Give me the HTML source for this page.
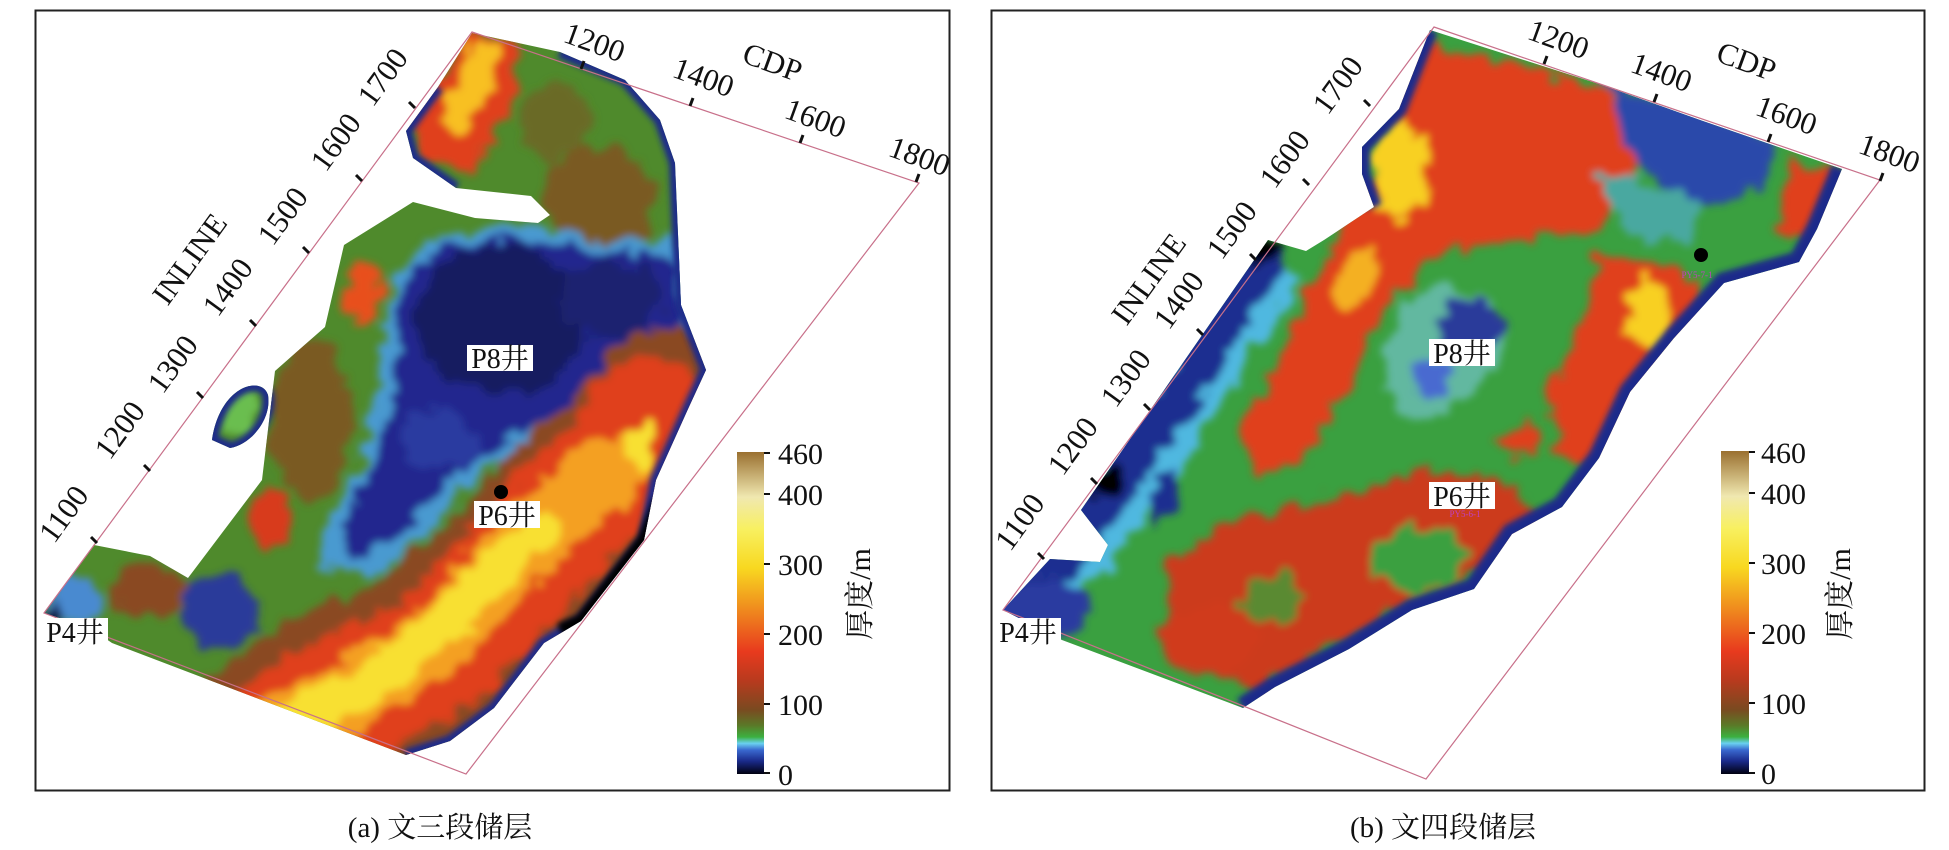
<!DOCTYPE html>
<html><head><meta charset="utf-8"><style>
html,body{margin:0;padding:0;background:#fff}
svg{display:block}
text{font-family:"Liberation Serif","Noto Serif CJK SC","Noto Sans CJK SC",serif;fill:#111}
</style></head><body>
<svg width="1949" height="850" viewBox="0 0 1949 850" xmlns="http://www.w3.org/2000/svg">
<defs>
<filter id="bl" x="-20%" y="-20%" width="140%" height="140%">
<feTurbulence type="fractalNoise" baseFrequency="0.05" numOctaves="3" seed="3" result="t"/>
<feDisplacementMap in="SourceGraphic" in2="t" scale="30" xChannelSelector="R" yChannelSelector="G" result="d"/>
<feGaussianBlur in="d" stdDeviation="4"/></filter>
<filter id="bs" x="-20%" y="-20%" width="140%" height="140%"><feGaussianBlur stdDeviation="3"/></filter>
<linearGradient id="cb" x1="0" y1="1" x2="0" y2="0">
<stop offset="0" stop-color="#000010"/><stop offset="0.04" stop-color="#1a2a8a"/>
<stop offset="0.075" stop-color="#3a6ad0"/><stop offset="0.095" stop-color="#6ad0f0"/>
<stop offset="0.115" stop-color="#3cb040"/><stop offset="0.15" stop-color="#5a7a28"/>
<stop offset="0.20" stop-color="#7a4a20"/><stop offset="0.29" stop-color="#b83a1e"/>
<stop offset="0.38" stop-color="#e83a1e"/><stop offset="0.52" stop-color="#f0901e"/>
<stop offset="0.64" stop-color="#f8d820"/><stop offset="0.76" stop-color="#f8f060"/>
<stop offset="0.86" stop-color="#f0e8b0"/><stop offset="1" stop-color="#9a7030"/></linearGradient>
<clipPath id="cl"><path d="M472,33 L560,52 L625,80 L660,120 L675,163 L681,305 L706,370 L688,409 L656,480 L644,540 L581,621 L544,643 L494,708 L450,741 L406,755 L112,643 L90,628 L44,613 L94,545 L150,556 L188,578 L262,480 L275,371 L325,327 L344,245 L413,202 L475,218 L538,223 L550,215 L531,196 L456,188 L413,158 L406,131 L438,87 Z"/>
<path d="M212,440 C220,385 262,375 268,395 C272,420 250,445 230,448 Z"/></clipPath>
<clipPath id="cr"><path d="M1430,30 L1599,84 L1700,120 L1842,169 L1817,229 L1799,262 L1724,283 L1674,338 L1630,392 L1599,458 L1562,507 L1512,534 L1474,589 L1412,610 L1349,649 L1275,687 L1243,708 L1062,640 L1003,610 L1050,559 L1100,562 L1108,545 L1081,510 L1268,240 L1306,251 L1324,240 L1374,207 L1362,174 L1362,147 L1399,109 Z"/></clipPath>
</defs>

<rect x="35.5" y="10.5" width="914" height="780" fill="none" stroke="#222" stroke-width="2"/>
<rect x="991.5" y="10.5" width="933" height="780" fill="none" stroke="#222" stroke-width="2"/>

<!-- LEFT MAP -->
<g clip-path="url(#cl)">
<rect x="30" y="20" width="700" height="760" fill="#4f8a2c"/>
<g filter="url(#bl)">
<ellipse cx="310" cy="420" rx="40" ry="80" fill="#7a5a22"/>
<ellipse cx="600" cy="200" rx="55" ry="55" fill="#7a5a22"/>
<ellipse cx="555" cy="120" rx="35" ry="40" fill="#6a6a26"/>
<ellipse cx="150" cy="590" rx="35" ry="28" fill="#8a4a20"/>
<ellipse cx="240" cy="410" rx="18" ry="25" fill="#6abe50"/>
<path d="M390,280 L440,235 L520,225 L600,240 L680,240 L700,320 L680,370 L640,395 L590,400 L560,430 L520,450 L470,480 L440,520 L400,560 L350,580 L320,560 L330,520 L360,470 L375,400 L385,330 Z" fill="#4a9ad0"/>
<path d="M400,285 L445,245 L520,238 L600,252 L670,255 L688,320 L670,360 L630,380 L585,390 L550,420 L510,440 L460,470 L425,510 L385,545 L345,560 L345,520 L372,470 L390,400 L398,330 Z" fill="#20288e"/>
<ellipse cx="500" cy="320" rx="85" ry="75" fill="#181a60"/>
<ellipse cx="610" cy="300" rx="50" ry="40" fill="#1c2470"/>
<ellipse cx="440" cy="440" rx="40" ry="30" fill="#2a3aa0"/>
<ellipse cx="220" cy="610" rx="38" ry="38" fill="#2a3a9a"/>
<ellipse cx="75" cy="600" rx="30" ry="25" fill="#4a8ad0"/>
<ellipse cx="55" cy="612" rx="12" ry="10" fill="#101040"/>
<path d="M470,30 L520,45 L510,110 L470,175 L420,160 L412,120 Z" fill="#e0401e"/>
<path d="M478,40 L500,50 L485,105 L455,135 L440,120 Z" fill="#f8c020"/>
<ellipse cx="362" cy="292" rx="20" ry="28" fill="#e8501e"/>
<ellipse cx="272" cy="520" rx="20" ry="32" fill="#d83a1e"/>
<path d="M250,760 L330,700 L430,660 L510,590 L570,520 L640,460 L670,420" fill="none" stroke="#8a4a20" stroke-width="180" stroke-linecap="round"/>
<path d="M260,750 L340,700 L440,650 L510,580 L570,510 L630,450 L650,420" fill="none" stroke="#e0401e" stroke-width="125" stroke-linecap="round"/>
<path d="M280,730 L350,695 L440,640 L500,570 L560,510 L610,470" fill="none" stroke="#f4a020" stroke-width="70" stroke-linecap="round"/>
<path d="M290,720 L360,690 L440,630 L490,575 L540,530" fill="none" stroke="#f8e030" stroke-width="40" stroke-linecap="round"/>
<ellipse cx="640" cy="445" rx="14" ry="22" fill="#f8e030"/>
</g>
<path d="M560,52 L625,80 L660,120 L675,163 L681,305 L706,370 L688,409 L656,480 L644,540 L581,621 L544,643 L494,708 L450,741 L406,755 M456,188 L413,158 L406,131 L438,87 M212,440 C220,385 262,375 268,395 C272,420 250,445 230,448 Z" fill="none" stroke="#1a2a8a" stroke-width="12" filter="url(#bs)"/>
<path d="M660,500 L644,540 L581,621 L560,630" fill="none" stroke="#000" stroke-width="14" filter="url(#bs)"/>
</g>
<path d="M472,32 L919,183 L466,774 L44,613 Z" fill="none" stroke="#c8708a" stroke-width="1.2"/>
<g stroke="#111" stroke-width="3">
<line x1="97" y1="543" x2="91" y2="537"/><line x1="150" y1="471" x2="144" y2="465"/>
<line x1="203" y1="398" x2="197" y2="392"/><line x1="256" y1="326" x2="250" y2="320"/>
<line x1="309" y1="253" x2="303" y2="247"/><line x1="362" y1="181" x2="356" y2="175"/>
<line x1="415" y1="108" x2="409" y2="102"/>
<line x1="581" y1="69" x2="584" y2="61"/><line x1="690" y1="106" x2="693" y2="98"/>
<line x1="800" y1="143" x2="803" y2="135"/><line x1="916" y1="182" x2="919" y2="174"/>
</g>
<g font-size="31">
<text transform="translate(72,520) rotate(-54)" text-anchor="middle">1100</text>
<text transform="translate(128,436) rotate(-54)" text-anchor="middle">1200</text>
<text transform="translate(181,370) rotate(-54)" text-anchor="middle">1300</text>
<text transform="translate(236,293) rotate(-54)" text-anchor="middle">1400</text>
<text transform="translate(291,222) rotate(-54)" text-anchor="middle">1500</text>
<text transform="translate(344,148) rotate(-54)" text-anchor="middle">1600</text>
<text transform="translate(391,83) rotate(-54)" text-anchor="middle">1700</text>
<text transform="translate(198,265) rotate(-54)" text-anchor="middle">INLINE</text>
<text transform="translate(591,52) rotate(20)" text-anchor="middle">1200</text>
<text transform="translate(700,87) rotate(20)" text-anchor="middle">1400</text>
<text transform="translate(769,72) rotate(20)" text-anchor="middle">CDP</text>
<text transform="translate(812,128) rotate(20)" text-anchor="middle">1600</text>
<text transform="translate(916,166) rotate(20)" text-anchor="middle">1800</text>
</g>
<circle cx="501" cy="492" r="7" fill="#000"/>
<rect x="467" y="345" width="66" height="26" fill="#fff"/><text x="500" y="368" font-size="28" text-anchor="middle">P8井</text>
<rect x="474" y="501" width="66" height="27" fill="#fff"/><text x="507" y="525" font-size="28" text-anchor="middle">P6井</text>
<rect x="42" y="618" width="66" height="27" fill="#fff"/><text x="75" y="642" font-size="28" text-anchor="middle">P4井</text>
<rect x="737" y="452" width="27" height="322" fill="url(#cb)"/>
<g stroke="#111" stroke-width="2">
<line x1="764" y1="453" x2="770" y2="453"/><line x1="764" y1="494" x2="770" y2="494"/><line x1="764" y1="564" x2="770" y2="564"/><line x1="764" y1="634" x2="770" y2="634"/><line x1="764" y1="704" x2="770" y2="704"/><line x1="764" y1="773" x2="770" y2="773"/></g>
<g font-size="30"><text x="778" y="464">460</text><text x="778" y="505">400</text><text x="778" y="575">300</text><text x="778" y="645">200</text><text x="778" y="715">100</text><text x="778" y="785">0</text></g>
<text transform="translate(870,594) rotate(-90)" text-anchor="middle" font-size="30">厚度/m</text>
<text x="440" y="837" font-size="29" text-anchor="middle">(a) 文三段储层</text>

<!-- RIGHT MAP -->
<g clip-path="url(#cr)">
<rect x="990" y="20" width="870" height="700" fill="#3aa040"/>
<g filter="url(#bl)">
<path d="M1420,40 L1600,90 L1640,150 L1600,230 L1520,240 L1440,250 L1380,320 L1340,400 L1310,460 L1260,480 L1240,430 L1280,360 L1320,270 L1360,200 L1380,140 Z" fill="#e0401e"/>
<path d="M1600,250 L1700,280 L1700,340 L1650,400 L1620,450 L1570,470 L1545,400 L1580,330 Z" fill="#e0401e"/>
<path d="M1170,560 L1230,520 L1330,500 L1420,470 L1500,480 L1540,520 L1470,580 L1400,610 L1330,650 L1260,690 L1180,660 Z" fill="#cc3a1c"/>
<ellipse cx="1420" cy="560" rx="45" ry="35" fill="#3aa040"/>
<ellipse cx="1270" cy="600" rx="30" ry="25" fill="#5a8a30"/>
<ellipse cx="1210" cy="640" rx="50" ry="35" fill="#d03a1c"/>
<ellipse cx="1400" cy="170" rx="28" ry="50" fill="#f8d020"/>
<ellipse cx="1355" cy="280" rx="16" ry="35" fill="#f4b020" transform="rotate(30 1355 280)"/>
<ellipse cx="1650" cy="315" rx="22" ry="35" fill="#f8d020"/>
<ellipse cx="1520" cy="440" rx="22" ry="18" fill="#e0401e"/>
<path d="M1400,300 L1440,285 L1495,300 L1510,350 L1470,395 L1420,420 L1390,410 L1385,360 Z" fill="#62b8a0"/>
<ellipse cx="1470" cy="325" rx="34" ry="28" fill="#2a3a9a"/>
<ellipse cx="1430" cy="380" rx="18" ry="20" fill="#4a6ad0"/>
<path d="M1600,80 L1780,140 L1760,190 L1700,210 L1640,170 Z" fill="#2a4aaa"/>
<path d="M1590,165 L1700,200 L1690,245 L1630,235 Z" fill="#4aa8a0"/>
<path d="M1790,160 L1842,175 L1810,240 L1780,230 Z" fill="#e0401e"/>
<path d="M1010,610 L1060,560 L1110,500 L1170,410 L1230,320 L1268,255" fill="none" stroke="#50b8e0" stroke-width="80"/>
<path d="M1000,615 L1060,560 L1100,505 L1150,430 L1200,360 L1268,250" fill="none" stroke="#1e2e90" stroke-width="45"/>
<ellipse cx="1040" cy="610" rx="50" ry="30" fill="#2a3aa0"/>
<ellipse cx="1100" cy="480" rx="25" ry="18" fill="#000"/>
<ellipse cx="1165" cy="495" rx="14" ry="24" fill="#1e2e90"/>
<ellipse cx="1150" cy="410" rx="20" ry="12" fill="#1e2e90"/>
<ellipse cx="1265" cy="250" rx="14" ry="14" fill="#000"/>
</g>
<path d="M1842,169 L1817,229 L1799,262 L1724,283 L1674,338 L1630,392 L1599,458 L1562,507 L1512,534 L1474,589 L1412,610 L1349,649 L1275,687 L1243,708" fill="none" stroke="#1a2a8a" stroke-width="22" filter="url(#bs)"/>
<path d="M1430,30 L1399,109 L1362,147 L1362,174 L1374,207" fill="none" stroke="#1a2a8a" stroke-width="16" filter="url(#bs)"/>
</g>
<path d="M1434,27 L1880,180 L1426,779 L1003,610 Z" fill="none" stroke="#c8708a" stroke-width="1.2"/>
<g stroke="#111" stroke-width="3">
<line x1="1044" y1="559" x2="1038" y2="553"/><line x1="1097" y1="484" x2="1091" y2="478"/>
<line x1="1150" y1="410" x2="1144" y2="404"/><line x1="1203" y1="335" x2="1197" y2="329"/>
<line x1="1256" y1="260" x2="1250" y2="254"/><line x1="1309" y1="185" x2="1303" y2="179"/>
<line x1="1370" y1="106" x2="1364" y2="100"/>
<line x1="1544" y1="64" x2="1547" y2="56"/><line x1="1654" y1="102" x2="1657" y2="94"/>
<line x1="1768" y1="142" x2="1771" y2="134"/><line x1="1880" y1="181" x2="1883" y2="173"/>
</g>
<g font-size="31">
<text transform="translate(1028,528) rotate(-54)" text-anchor="middle">1100</text>
<text transform="translate(1081,452) rotate(-54)" text-anchor="middle">1200</text>
<text transform="translate(1134,384) rotate(-54)" text-anchor="middle">1300</text>
<text transform="translate(1187,306) rotate(-54)" text-anchor="middle">1400</text>
<text transform="translate(1157,285) rotate(-54)" text-anchor="middle">INLINE</text>
<text transform="translate(1240,236) rotate(-54)" text-anchor="middle">1500</text>
<text transform="translate(1293,165) rotate(-54)" text-anchor="middle">1600</text>
<text transform="translate(1346,91) rotate(-54)" text-anchor="middle">1700</text>
<text transform="translate(1555,49) rotate(20)" text-anchor="middle">1200</text>
<text transform="translate(1658,82) rotate(20)" text-anchor="middle">1400</text>
<text transform="translate(1743,71) rotate(20)" text-anchor="middle">CDP</text>
<text transform="translate(1783,125) rotate(20)" text-anchor="middle">1600</text>
<text transform="translate(1886,163) rotate(20)" text-anchor="middle">1800</text>
</g>
<circle cx="1701" cy="255" r="7" fill="#000"/>
<text x="1697" y="278" font-size="9" style="fill:#c040c0" text-anchor="middle">PY5-7-1</text>
<text x="1465" y="517" font-size="9" style="fill:#c040c0" text-anchor="middle">PY5-6-1</text>
<rect x="1429" y="339" width="66" height="27" fill="#fff"/><text x="1462" y="363" font-size="28" text-anchor="middle">P8井</text>
<rect x="1429" y="482" width="66" height="27" fill="#fff"/><text x="1462" y="506" font-size="28" text-anchor="middle">P6井</text>
<rect x="995" y="618" width="66" height="27" fill="#fff"/><text x="1028" y="642" font-size="28" text-anchor="middle">P4井</text>
<rect x="1721" y="451" width="28" height="323" fill="url(#cb)"/>
<g stroke="#111" stroke-width="2">
<line x1="1749" y1="452" x2="1755" y2="452"/><line x1="1749" y1="493" x2="1755" y2="493"/><line x1="1749" y1="563" x2="1755" y2="563"/><line x1="1749" y1="633" x2="1755" y2="633"/><line x1="1749" y1="703" x2="1755" y2="703"/><line x1="1749" y1="773" x2="1755" y2="773"/></g>
<g font-size="30"><text x="1761" y="463">460</text><text x="1761" y="504">400</text><text x="1761" y="574">300</text><text x="1761" y="644">200</text><text x="1761" y="714">100</text><text x="1761" y="784">0</text></g>
<text transform="translate(1850,594) rotate(-90)" text-anchor="middle" font-size="30">厚度/m</text>
<text x="1443" y="837" font-size="29" text-anchor="middle">(b) 文四段储层</text>
</svg>
</body></html>
